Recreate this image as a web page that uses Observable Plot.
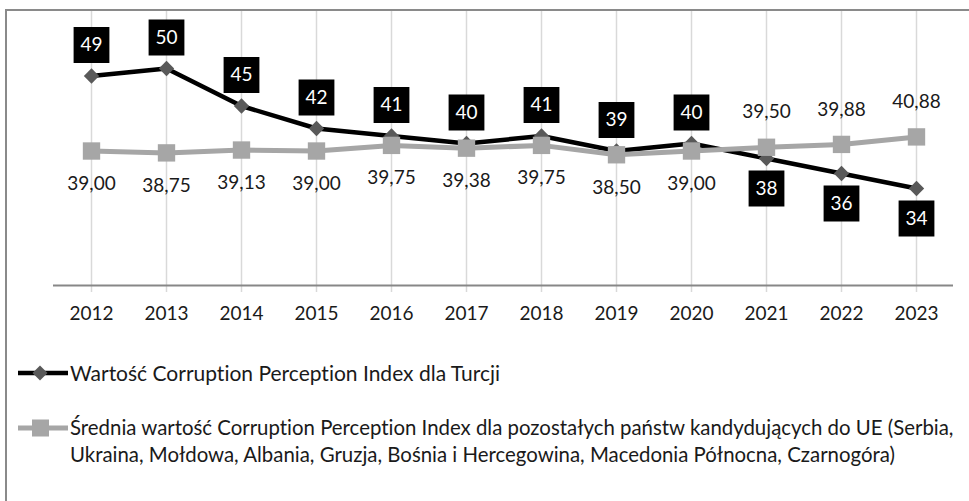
<!DOCTYPE html>
<html>
<head>
<meta charset="utf-8">
<script src="https://cdn.jsdelivr.net/npm/d3@7"></script>
<script src="https://cdn.jsdelivr.net/npm/@observablehq/plot@0.6"></script>
<style>
  html, body { margin: 0; padding: 0; background: #fff; width: 969px; height: 501px; overflow: hidden; }
  body { position: relative; font-family: Lato, "Open Sans", sans-serif; color: #1a1a1a; font-variant-ligatures: none; }
  #frame { position: absolute; left: 5px; top: 9px; width: 980px; height: 520px; border-left: 2px solid #8a8a8a; border-top: 2px solid #8a8a8a; }
  #chart { position: absolute; left: 0; top: 0; }
  .leg { position: absolute; left: 18px; font-size: 21px; line-height: 27px; display: flex; align-items: flex-start; }
  .leg svg { flex: none; }
  .leg span { display: block; }
</style>
</head>
<body>
<div id="frame"></div>
<div id="chart"></div>
<div class="leg" id="leg1" style="top:359px;"></div>
<div class="leg" id="leg2" style="top:414px; font-size:20.4px;"></div>
<script>
const years = ["2012","2013","2014","2015","2016","2017","2018","2019","2020","2021","2022","2023"];
const turkey = [49, 50, 45, 42, 41, 40, 41, 39, 40, 38, 36, 34];
const others = [39.00, 38.75, 39.13, 39.00, 39.75, 39.38, 39.75, 38.50, 39.00, 39.50, 39.88, 40.88];
const seriesTurkey = "Wartość Corruption Perception Index dla Turcji";
const seriesOthers = "Średnia wartość Corruption Perception Index dla pozostałych państw kandydujących do UE (Serbia, Ukraina, Mołdowa, Albania, Gruzja, Bośnia i Hercegowina, Macedonia Północna, Czarnogóra)";

const rows = years.map((y, i) => ({year: y, t: turkey[i], o: others[i], tAbove: turkey[i] >= others[i]}));
const fmt = v => v.toFixed(2).replace(".", ",");
const yMin = 21.07, yMax = 57.6;
const font = "Lato, 'Open Sans', sans-serif";

const chart = Plot.plot({
  width: 969,
  height: 330,
  marginLeft: 53,
  marginRight: 16,
  marginTop: 11,
  marginBottom: 45,
  style: {fontFamily: font, fontSize: "19px", color: "#1a1a1a", background: "transparent"},
  x: {type: "point", domain: years, padding: 0.5, label: null},
  y: {domain: [yMin, yMax], axis: null},
  marks: [
    Plot.ruleX(years, {x: d => d, stroke: "#d9d9d9", strokeWidth: 1.5}),
    Plot.axisX({tickSize: 7, tickPadding: 14, stroke: "#d9d9d9", strokeWidth: 1.5, fontSize: 19, fill: "#1a1a1a", label: null}),
    Plot.ruleY([yMin], {stroke: "#878787", strokeWidth: 2}),
    Plot.line(rows, {x: "year", y: "t", stroke: "#000", strokeWidth: 4.5}),
    Plot.dot(rows, {x: "year", y: "t", symbol: "diamond2", r: 6.9, fill: "#595959", stroke: null}),
    Plot.line(rows, {x: "year", y: "o", stroke: "#a6a6a6", strokeWidth: 5}),
    Plot.dot(rows, {x: "year", y: "o", symbol: "square", r: 9.8, fill: "#a6a6a6", stroke: null}),
    // Turkey labels: black boxes
    Plot.dot(rows.filter(d => d.tAbove), {x: "year", y: "t", symbol: "square", r: 20.2, fill: "#000", dy: -31}),
    Plot.dot(rows.filter(d => !d.tAbove), {x: "year", y: "t", symbol: "square", r: 20.2, fill: "#000", dy: 30}),
    Plot.text(rows.filter(d => d.tAbove), {x: "year", y: "t", text: d => String(d.t), fill: "#fff", fontSize: 19, dy: -31}),
    Plot.text(rows.filter(d => !d.tAbove), {x: "year", y: "t", text: d => String(d.t), fill: "#fff", fontSize: 19, dy: 30}),
    // Others labels
    Plot.text(rows.filter(d => d.tAbove), {x: "year", y: "o", text: d => fmt(d.o), fill: "#1a1a1a", fontSize: 19, dy: 33}),
    Plot.text(rows.filter(d => !d.tAbove), {x: "year", y: "o", text: d => fmt(d.o), fill: "#1a1a1a", fontSize: 19, dy: -35})
  ]
});
document.getElementById("chart").appendChild(chart);

function legendSymbol(kind) {
  const ns = "http://www.w3.org/2000/svg";
  const s = document.createElementNS(ns, "svg");
  s.setAttribute("width", 52); s.setAttribute("height", 27);
  if (kind === "t") {
    s.innerHTML = '<line x1="0" x2="50" y1="14" y2="14" stroke="#000" stroke-width="4.5"/>' +
      '<path d="M22,6.5 L29.5,14 L22,21.5 L14.5,14 Z" fill="#595959"/>';
  } else {
    s.innerHTML = '<line x1="0" x2="50" y1="14" y2="14" stroke="#a6a6a6" stroke-width="5"/>' +
      '<rect x="14" y="5.5" width="17" height="17" fill="#a6a6a6"/>';
  }
  return s;
}
const l1 = document.getElementById("leg1");
l1.appendChild(legendSymbol("t"));
const s1 = document.createElement("span"); s1.textContent = seriesTurkey; l1.appendChild(s1);
const l2 = document.getElementById("leg2");
l2.appendChild(legendSymbol("o"));
const s2 = document.createElement("span"); s2.textContent = seriesOthers; s2.style.width = "899px"; l2.appendChild(s2);
</script>
</body>
</html>
